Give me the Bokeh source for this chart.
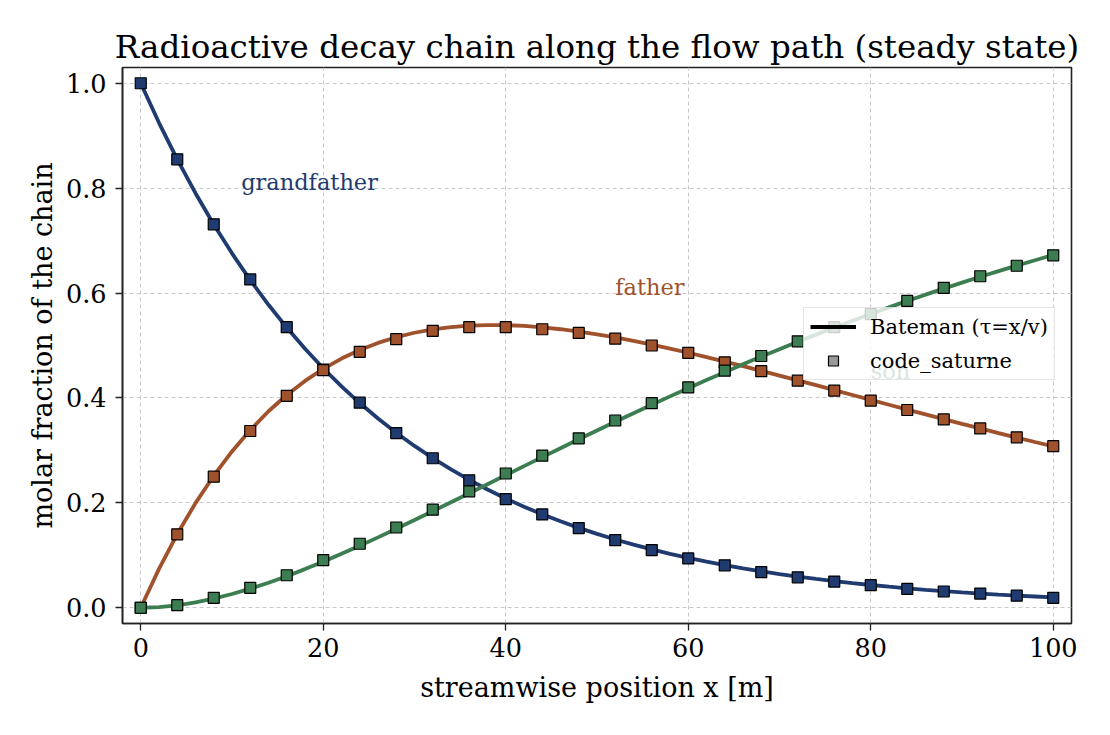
from bokeh.plotting import figure
from bokeh.models import (ColumnDataSource, Legend, LegendItem, FixedTicker,
                          PrintfTickFormatter, Range1d)
from bokeh.core.properties import value
from bokeh.embed import file_html
from bokeh.resources import INLINE

# ---------------- data ----------------
x_line = list(range(0, 101, 2))
grandfather_line = [1.0, 0.9246, 0.8549, 0.7904, 0.7308, 0.6757, 0.6247, 0.5776, 0.5341, 0.4938,
                    0.4566, 0.4221, 0.3903, 0.3609, 0.3336, 0.3085, 0.2852, 0.2637, 0.2438, 0.2254,
                    0.2084, 0.1927, 0.1782, 0.1648, 0.1523, 0.1408, 0.1302, 0.1204, 0.1113, 0.1029,
                    0.0952, 0.0880, 0.0814, 0.0752, 0.0695, 0.0643, 0.0595, 0.0550, 0.0508, 0.0470,
                    0.0434, 0.0402, 0.0371, 0.0343, 0.0318, 0.0294, 0.0271, 0.0251, 0.0232, 0.0215,
                    0.0198]
father_line = [0.0, 0.0742, 0.1405, 0.1995, 0.2518, 0.2981, 0.3389, 0.3746, 0.4057, 0.4325,
               0.4555, 0.4751, 0.4914, 0.5049, 0.5158, 0.5243, 0.5307, 0.5351, 0.5379, 0.5390,
               0.5388, 0.5373, 0.5346, 0.5310, 0.5265, 0.5213, 0.5153, 0.5087, 0.5016, 0.4941,
               0.4862, 0.4779, 0.4694, 0.4607, 0.4517, 0.4427, 0.4335, 0.4243, 0.4150, 0.4057,
               0.3964, 0.3871, 0.3779, 0.3688, 0.3597, 0.3507, 0.3419, 0.3331, 0.3245, 0.3160,
               0.3076]
son_line = [0.0, 0.0012, 0.0046, 0.0101, 0.0174, 0.0262, 0.0364, 0.0478, 0.0602, 0.0737,
            0.0879, 0.1028, 0.1183, 0.1342, 0.1506, 0.1672, 0.1841, 0.2012, 0.2183, 0.2356,
            0.2528, 0.2700, 0.2872, 0.3042, 0.3212, 0.3379, 0.3545, 0.3709, 0.3871, 0.4030,
            0.4186, 0.4341, 0.4492, 0.4641, 0.4788, 0.4930, 0.5070, 0.5207, 0.5342, 0.5473,
            0.5602, 0.5727, 0.5850, 0.5969, 0.6085, 0.6199, 0.6310, 0.6418, 0.6523, 0.6625,
            0.6726]

x_pts = list(range(0, 101, 4))
grandfather_pts = [1.0, 0.855, 0.731, 0.626, 0.535, 0.454, 0.391, 0.333, 0.285, 0.243, 0.207,
                   0.178, 0.152, 0.129, 0.110, 0.094, 0.081, 0.068, 0.058, 0.050, 0.043, 0.036,
                   0.031, 0.027, 0.023, 0.019]
father_pts = [0.0, 0.140, 0.250, 0.337, 0.404, 0.453, 0.488, 0.512, 0.528, 0.535, 0.535, 0.531,
              0.524, 0.513, 0.500, 0.486, 0.468, 0.451, 0.433, 0.414, 0.395, 0.377, 0.359,
              0.342, 0.325, 0.308]
son_pts = [0.0, 0.005, 0.019, 0.038, 0.062, 0.091, 0.122, 0.153, 0.187, 0.222, 0.256, 0.290,
           0.323, 0.357, 0.390, 0.420, 0.452, 0.480, 0.508, 0.535, 0.560, 0.585, 0.610, 0.632,
           0.652, 0.672]

species = ["grandfather", "father", "son"]
x_ticks = [0, 20, 40, 60, 80, 100]
y_ticks = [0.0, 0.2, 0.4, 0.6, 0.8, 1.0]

# label anchor points (data coordinates)
label_x = [11, 52, 80]
label_y = [0.812, 0.612, 0.452]

colors = {"grandfather": "#1f3b70", "father": "#a0522d", "son": "#3d7d52"}
FONT = "DejaVu Serif"

# ---------------- figure ----------------
p = figure(width=1110, height=735, output_backend="svg", toolbar_location=None,
           x_range=Range1d(-2, 102), y_range=Range1d(-0.03, 1.03),
           min_border_left=122, min_border_right=39, min_border_top=67, min_border_bottom=112,
           title="Radioactive decay chain along the flow path (steady state)")

p.title.text_font = FONT
p.title.text_font_size = "32.5px"
p.title.text_font_style = "normal"
p.title.align = "center"
p.title.text_color = "#000000"
p.title.standoff = 3

p.background_fill_color = "white"
p.border_fill_color = "white"
p.outline_line_color = "#222222"
p.outline_line_width = 1.6

p.xaxis.ticker = FixedTicker(ticks=x_ticks)
p.yaxis.ticker = FixedTicker(ticks=y_ticks)
p.yaxis.formatter = PrintfTickFormatter(format="%.1f")
p.xaxis.axis_label = "streamwise position x [m]"
p.yaxis.axis_label = "molar fraction of the chain"
for ax in (p.xaxis, p.yaxis):
    ax.axis_label_text_font = FONT
    ax.axis_label_text_font_size = "27px"
    ax.axis_label_text_font_style = "normal"
    ax.axis_label_text_color = "#000000"
    ax.major_label_text_font = FONT
    ax.major_label_text_font_size = "25.5px"
    ax.major_label_text_color = "#000000"
    ax.major_tick_out = 7
    ax.major_tick_in = 0
    ax.major_tick_line_color = "#222222"
    ax.major_tick_line_width = 1.3
    ax.minor_tick_line_color = None
    ax.axis_line_color = "#222222"
    ax.axis_line_width = 1.6
p.xaxis.major_label_standoff = 7
p.yaxis.major_label_standoff = 9
p.xaxis.axis_label_standoff = 12
p.yaxis.axis_label_standoff = 5

p.grid.grid_line_color = "#c8c8c8"
p.grid.grid_line_dash = "4 3"
p.grid.grid_line_width = 1

line_src = ColumnDataSource(dict(x=x_line, grandfather=grandfather_line,
                                 father=father_line, son=son_line))
pts_src = ColumnDataSource(dict(x=x_pts, grandfather=grandfather_pts,
                                father=father_pts, son=son_pts))

for sp in species:
    p.line("x", sp, source=line_src, line_color=colors[sp], line_width=3.8)
    p.scatter("x", sp, source=pts_src, marker="square", size=11,
              fill_color=colors[sp], line_color="black", line_width=1.2)

lab_src = ColumnDataSource(dict(x=label_x, y=label_y, text=species,
                                color=[colors[s] for s in species]))
p.text("x", "y", text="text", source=lab_src, text_color="color",
       text_font=value(FONT), text_font_size="22.5px",
       text_align="left", text_baseline="alphabetic")

# legend with proxy renderers
nan = float("nan")
proxy_line = p.line([nan], [nan], line_color="black", line_width=3.8)
proxy_pts = p.scatter([nan], [nan], marker="square", size=11,
                      fill_color="#999999", line_color="black", line_width=1.2)
legend = Legend(items=[LegendItem(label="Bateman (τ=x/v)", renderers=[proxy_line]),
                       LegendItem(label="code_saturne", renderers=[proxy_pts])],
                location=(681, 243), orientation="vertical")
legend.label_text_font = FONT
legend.label_text_font_size = "21px"
legend.label_text_color = "#000000"
legend.glyph_width = 46
legend.glyph_height = 25
legend.label_height = 25
legend.label_standoff = 14
legend.spacing = 9
legend.padding = 6
legend.margin = 0
legend.background_fill_color = "white"
legend.background_fill_alpha = 0.8
legend.border_line_color = "#cccccc"
legend.border_line_width = 1.5
p.add_layout(legend, "center")

open("out.html", "w").write(file_html(p, INLINE))
